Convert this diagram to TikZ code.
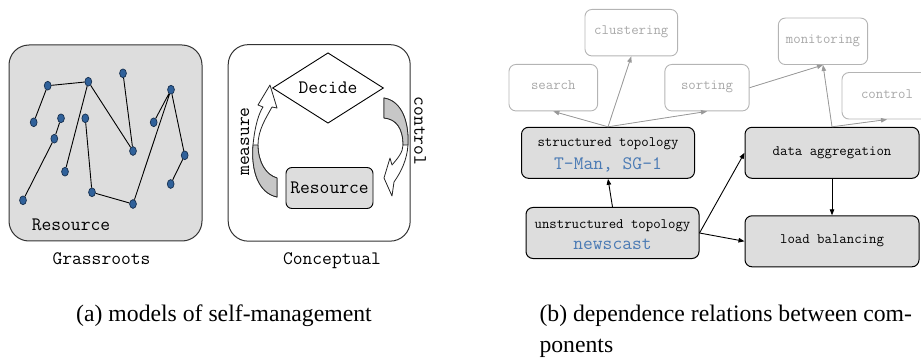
\documentclass[tikz,border=0pt]{standalone}
\usepackage{fontspec}
\setmainfont{Liberation Serif}
\usetikzlibrary{shapes.geometric, arrows.meta}

\definecolor{panelgray}{HTML}{DDDDDD}
\definecolor{dotblue}{HTML}{30619A}
\definecolor{dotrim}{HTML}{17304F}
\definecolor{algoblue}{HTML}{4A7AB4}
\definecolor{fadeline}{HTML}{B4B4B4}
\definecolor{fadetext}{HTML}{A8A8A8}

\tikzset{
  panel/.style={draw=black!80, line width=1pt, rounded corners=20pt, inner sep=0pt},
  dot/.style={ellipse, draw=dotrim, fill=dotblue, line width=0.7pt, minimum width=6.8pt, minimum height=8.8pt, inner sep=0pt},
  link/.style={line width=0.9pt},
  bigmono/.style={font=\fontsize{19}{22}\selectfont\ttfamily},
  smallmono/.style={font=\fontsize{14.4}{17}\selectfont\ttfamily},
  comp/.style={draw, line width=1pt, fill=panelgray, rounded corners=7pt, minimum width=173pt, minimum height=51pt, inner sep=0pt, text height=7.5pt, text depth=3pt},
  app/.style={draw=fadeline, line width=0.9pt, rounded corners=7pt, text=fadetext, smallmono, minimum height=46.5pt, inner sep=0pt, text height=7.5pt, text depth=3pt},
  dep/.style={-{Triangle[length=6pt,width=4.5pt]}, line width=0.9pt},
  fadedep/.style={-{Triangle[length=6pt,width=4.5pt]}, draw=fadeline!85!black, fill=fadeline!85!black, line width=0.8pt},
  curvy/.style={draw=black!85, line width=0.8pt, line join=round},
  caption/.style={font=\fontsize{23.7}{31}\selectfont}
}

\begin{document}
\begin{tikzpicture}[x=1pt,y=-1pt]
\clip (0,0) rectangle (921,358);
\node[panel, fill=panelgray, minimum width=193pt, minimum height=196pt] (grass) at (105.5,143) {};
\node[panel, fill=white, minimum width=182pt, minimum height=196.5pt] (concept) at (319.2,142.9) {};

\node[dot] (d1) at (47.7,85.7) {};
\node[dot] (d2) at (88.3,81.7) {};
\node[dot] (d3) at (123,73.3) {};
\node[dot] (d4) at (33.7,122.3) {};
\node[dot] (d5) at (61,118.3) {};
\node[dot] (d6) at (85.3,118.3) {};
\node[dot] (d7) at (54.3,138.7) {};
\node[dot] (d8) at (133,151) {};
\node[dot] (d9) at (153.7,122.3) {};
\node[dot] (d10) at (171,89.7) {};
\node[dot] (d11) at (184.7,155.3) {};
\node[dot] (d12) at (65,171.7) {};
\node[dot] (d13) at (23,200.3) {};
\node[dot] (d14) at (92,192.3) {};
\node[dot] (d15) at (133,204) {};
\node[dot] (d16) at (170.7,184) {};
\draw[link] (d4) -- (d1) -- (d2) -- (d8) -- (d3);
\draw[link] (d12) -- (d2);
\draw[link] (d5) -- (d7) -- (d13);
\draw[link] (d6) -- (d14) -- (d15) -- (d10) -- (d9);
\draw[link] (d10) -- (d11) -- (d16);

\node[bigmono, anchor=base] (grassres) at (71,231) {Resource};
\node[bigmono, anchor=base] (grasscap) at (101.5,264) {Grassroots};
\node[bigmono, anchor=base] (conceptcap) at (332,264) {Conceptual};

\node[diamond, draw, line width=0.9pt, fill=white, bigmono, minimum width=111pt, minimum height=57pt, inner sep=0pt] (decide) at (328,88) {Decide};
\node[draw, line width=0.9pt, fill=panelgray, rounded corners=6pt, bigmono, minimum width=87pt, minimum height=41pt, inner sep=0pt] (resbox) at (329.5,188) {Resource};
\node[bigmono, rotate=90] (measure) at (245,141.5) {measure};
\node[bigmono, rotate=-90] (control) at (420,131) {control};

\filldraw[curvy, fill=white] (277,197) .. controls (258,193) and (251,170) .. (253,145) .. controls (255,125) and (259,113) .. (263,107) -- (258,105) -- (270,85) -- (277,108) -- (272,107) .. controls (266,118) and (258,130) .. (258,145) .. controls (258,162) and (266,175) .. (277,178) -- cycle;
\filldraw[curvy, fill=black!22] (277,178) -- (277,197) .. controls (258,193) and (251,170) .. (253,145) -- (258,145) .. controls (258,162) and (266,175) .. (277,178) -- cycle;
\filldraw[curvy, fill=white] (384,98) .. controls (402,101) and (409,122) .. (408,145) .. controls (407,160) and (401,172) .. (394,182) -- (392,196) -- (384,178) -- (390,158) -- (392,165) .. controls (398,158) and (403,152) .. (403,145) .. controls (403,128) and (396,119) .. (384,118) -- cycle;
\filldraw[curvy, fill=black!22] (384,98) -- (384,118) .. controls (396,119) and (403,128) .. (403,145) -- (408,145) .. controls (409,122) and (402,101) .. (384,98) -- cycle;

\node[app, minimum width=92.7pt] (clustering) at (631.3,32.7) {clustering};
\node[app, minimum width=88.7pt] (search) at (553.3,87.7) {search};
\node[app, minimum width=84.3pt] (sorting) at (707,87.7) {sorting};
\node[app, minimum width=89.3pt] (monitoring) at (823,41.3) {monitoring};
\node[app, minimum width=90pt] (controlapp) at (887,95.8) {control};

\node[comp] (struct) at (608,152.8) {};
\node[comp] (unstruct) at (612.5,233) {};
\node[comp, minimum width=174pt, smallmono] (aggr) at (832,152.8) {data aggregation};
\node[comp, minimum width=174pt, smallmono] (balance) at (832,241.3) {load balancing};
\node[smallmono, anchor=base] (structname) at (608,147) {structured topology};
\node[bigmono, text=algoblue, anchor=base] (structalgo) at (608,169.5) {T-Man, SG-1};
\node[smallmono, anchor=base] (unstructname) at (612.5,229) {unstructured topology};
\node[bigmono, text=algoblue, anchor=base] (unstructalgo) at (612.5,249.5) {newscast};

\draw[dep] (unstruct.north) -- (struct.south);
\draw[dep] (unstruct.east) -- (aggr.west);
\draw[dep] (unstruct.east) -- (balance.west);
\draw[dep] (aggr.south) -- (balance.north);
\draw[fadedep] (struct.north) -- (search.south);
\draw[fadedep] (struct.north) -- (clustering.south);
\draw[fadedep] (struct.north) -- (sorting.south);
\draw[fadedep] (aggr.north) -- (monitoring.south);
\draw[fadedep] (aggr.north) -- (controlapp.south);
\draw[fadedep] (sorting.east) -- (monitoring.south);

\node[caption, anchor=base west] (capa) at (72.7,321.7) {(a) models of self-management};
\node[caption, anchor=base west] (capb) at (536,321.7) {(b) dependence relations between com-};
\node[caption, anchor=base west] (capbmore) at (536,352.7) {ponents};
\end{tikzpicture}
\end{document}
